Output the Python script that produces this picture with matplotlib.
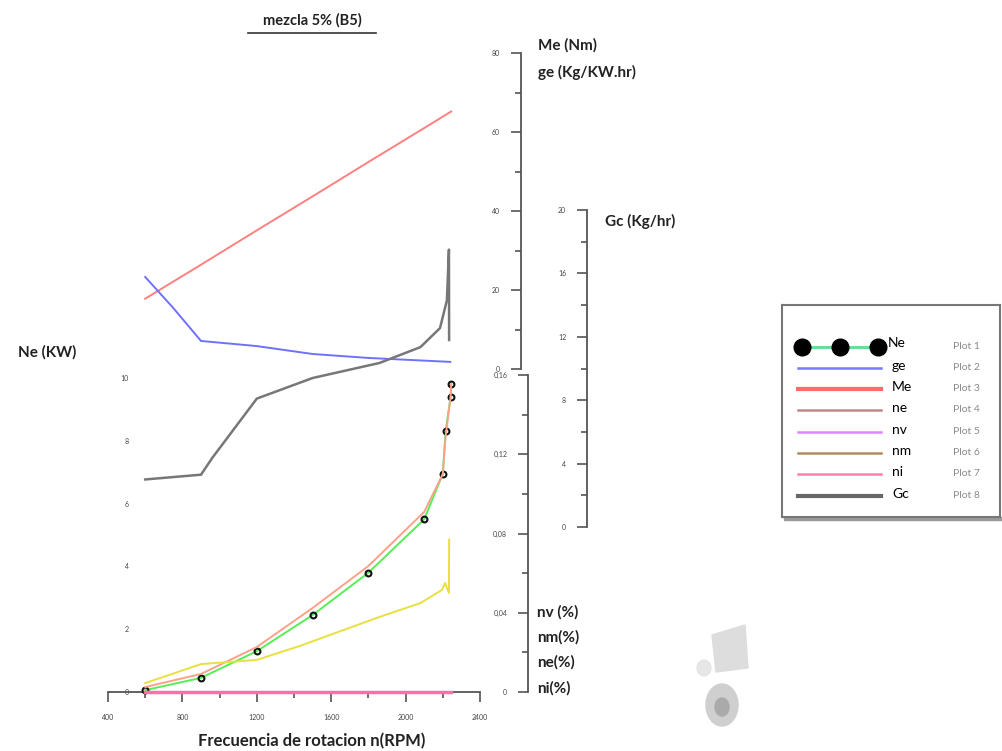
import numpy as np
import matplotlib
matplotlib.use("Agg")
import matplotlib.pyplot as plt
from matplotlib.lines import Line2D
from matplotlib.patches import Rectangle, Ellipse, Polygon
from matplotlib.ticker import MultipleLocator, FuncFormatter

W, H = 1002, 751
plt.rcParams['font.family'] = ['Lato', 'DejaVu Sans']

# data
rpm_ne = [600, 900, 1200, 1500, 1800, 2100, 2200, 2215, 2242, 2245]
ne_kw = [0.06, 0.45, 1.3, 2.45, 3.8, 5.5, 6.95, 8.3, 9.4, 9.8]

rpm_eff = [600, 900, 1200, 1500, 1800, 2100, 2200, 2215, 2242, 2245]
ne_eff = [0.0025, 0.0091, 0.0227, 0.0424, 0.0636, 0.0909, 0.110, 0.129, 0.149, 0.155]

rpm_nv = [600, 900, 1200, 1430, 1860, 2080, 2195, 2212, 2233, 2234]
nv_eff = [0.0045, 0.0141, 0.0162, 0.0232, 0.0379, 0.0449, 0.0515, 0.055, 0.050, 0.077]

rpm_ni = [600, 2245]
ni_eff = [0.0, 0.0]

rpm_ge = [600, 750, 900, 1200, 1500, 1800, 2240]
ge = [23.3, 15.5, 7.1, 5.8, 3.8, 2.8, 1.8]

rpm_me = [600, 900, 1200, 1500, 1800, 2100, 2245]
me = [17.8, 26.4, 35.1, 43.7, 52.4, 61.0, 65.2]

rpm_gc = [600, 900, 960, 1200, 1500, 1860, 2080, 2185, 2222, 2233, 2234]
gc = [3.0, 3.3, 4.35, 8.1, 9.4, 10.35, 11.35, 12.55, 14.3, 17.5, 11.8]

legend_names = ['Ne', 'ge', 'Me', 'ne', 'nv', 'nm', 'ni', 'Gc']
legend_colors = ['#66dd99', '#7b7bff', '#ff6b6b', '#c08a8a', '#dd88ff', '#b08a60', '#ff80a8', '#666666']


def rect(x0, y0, x1, y1):
    return [x0 / W, 1 - y1 / H, (x1 - x0) / W, (y1 - y0) / H]


fig = plt.figure(figsize=(W / 100, H / 100), dpi=100)

XMIN, XMAX = 400, 2400
grey = '#555555'
tick_kw = dict(labelsize=5, labelcolor='#444444', color=grey)

# main axis: Ne (KW) vs rpm
ax = fig.add_axes(rect(108, 378, 480, 692))
ax.set_xlim(XMIN, XMAX)
ax.set_ylim(0, 10)
for s in ['left', 'top', 'right']:
    ax.spines[s].set_visible(False)
ax.spines['bottom'].set_color(grey)
ax.spines['bottom'].set_linewidth(1.3)
ax.xaxis.set_major_locator(MultipleLocator(400))
ax.xaxis.set_minor_locator(MultipleLocator(200))
ax.tick_params(axis='x', which='major', length=7, width=1.2, pad=9, **tick_kw)
ax.tick_params(axis='x', which='minor', length=4, width=1.2, color=grey)
ax.set_yticks([0, 2, 4, 6, 8, 10])
ax.tick_params(axis='y', length=0, pad=-15, **tick_kw)
ax.patch.set_alpha(0)

ax.plot(rpm_ne, ne_kw, color='#55ee55', lw=1.4, marker='o', ms=4.2, mfc='none',
        mec='#111111', mew=1.5, zorder=5, clip_on=False)


def side_axis(y0, y1, spine_x, ylim, major, minor, fmt=None):
    a = fig.add_axes(rect(108, y0, 480, y1))
    a.set_xlim(XMIN, XMAX)
    a.set_ylim(*ylim)
    a.patch.set_alpha(0)
    for s in ['top', 'right', 'bottom']:
        a.spines[s].set_visible(False)
    a.spines['left'].set_position(('axes', (spine_x - 108) / 372))
    a.spines['left'].set_color(grey)
    a.spines['left'].set_linewidth(1.3)
    a.xaxis.set_visible(False)
    a.yaxis.set_major_locator(MultipleLocator(major))
    a.yaxis.set_minor_locator(MultipleLocator(minor))
    if fmt:
        a.yaxis.set_major_formatter(FuncFormatter(fmt))
    a.tick_params(axis='y', which='major', length=7, width=1.2, pad=8, **tick_kw)
    a.tick_params(axis='y', which='minor', length=4, width=1.2, color=grey)
    return a


ax_me = side_axis(53, 369, 521, (0, 80), 20, 10)
ax_eff = side_axis(375, 692, 528, (0, 0.16), 0.04, 0.02,
                   fmt=lambda v, p: '0' if v == 0 else f'{v:.2f}'.replace('.', ','))
ax_gc = side_axis(210, 527, 587, (0, 20), 4, 2)

ax_me.plot(rpm_me, me, color='#ff8080', lw=1.4)
ax_me.plot(rpm_ge, ge, color='#7070ff', lw=1.4)
ax_gc.plot(rpm_gc, gc, color='#777777', lw=1.8)
ax_eff.plot(rpm_nv, nv_eff, color='#e8e040', lw=1.4)
ax_eff.plot(rpm_eff, ne_eff, color='#ffa08a', lw=1.4, zorder=1)
ax_eff.plot(rpm_ni, ni_eff, color='#ff6fa8', lw=2.5, clip_on=False)

# axis titles
lab = dict(fontsize=11, fontweight='bold', color='#222222')
fig.text(538 / W, 1 - 45 / H, 'Me (Nm)', va='center', **lab)
fig.text(538 / W, 1 - 72 / H, 'ge (Kg/KW.hr)', va='center', **lab)
fig.text(605 / W, 1 - 221 / H, 'Gc (Kg/hr)', va='center', **lab)
fig.text(18 / W, 1 - 352 / H, 'Ne (KW)', va='center', **lab)
for i, t in enumerate(['nv (%)', 'nm(%)', 'ne(%)', 'ni(%)']):
    fig.text(537 / W, 1 - (612 + 25.3 * i) / H, t, va='center', **lab)
fig.text(312 / W, 1 - 741 / H, 'Frecuencia de rotacion n(RPM)', ha='center',
         va='center', fontsize=12, color='#222222', fontweight='bold')
fig.text(312 / W, 1 - 20 / H, 'mezcla 5% (B5)', ha='center', va='center',
         fontsize=10.5, fontweight='bold', color='#222222')
fig.add_artist(Line2D([248 / W, 376 / W], [1 - 33 / H, 1 - 33 / H], color='#333333', lw=1.2))

# legend box
lg = fig.add_axes(rect(782, 305, 1000, 517))
lg.set_xlim(782, 1000)
lg.set_ylim(517, 305)
lg.set_xticks([])
lg.set_yticks([])
for s in lg.spines.values():
    s.set_color('#777777')
    s.set_linewidth(1.5)
fig.add_artist(Rectangle((784 / W, 1 - 520 / H), 218 / W, 3 / H, color='#999999', zorder=0))
ys = [347, 368, 389, 410, 432, 453, 474, 496]
for i, (name, col, y) in enumerate(zip(legend_names, legend_colors, ys)):
    if i == 0:
        lg.plot([802, 878], [y, y], color=col, lw=2.2)
        lg.plot([802, 840, 878], [y, y, y], 'o', color='black', ms=12)
        lg.text(888, y - 4, name, fontsize=10, va='center')
    else:
        lw = 3 if name in ('Me', 'Gc') else 1.8
        lg.plot([798, 881], [y, y], color=col, lw=lw)
        lg.text(892, y - 2, name, fontsize=10, va='center')
    lg.text(953, y, f'Plot {i + 1}', fontsize=7.5, color='#8a8a8a', va='center')

# decorative grey blotches at bottom right
fig.add_artist(Polygon([(712 / W, 1 - 635 / H), (745 / W, 1 - 625 / H),
                        (748 / W, 1 - 668 / H), (716 / W, 1 - 672 / H)],
                       closed=True, color='#dddddd', zorder=0))
fig.add_artist(Ellipse((722 / W, 1 - 705 / H), 32 / W, 42 / H, color='#cfcfcf', zorder=0))
fig.add_artist(Ellipse((722 / W, 1 - 707 / H), 14 / W, 18 / H, color='#aaaaaa', zorder=0))
fig.add_artist(Ellipse((704 / W, 1 - 668 / H), 14 / W, 16 / H, color='#e6e6e6', zorder=0))

fig.savefig('out.png', dpi=100)
